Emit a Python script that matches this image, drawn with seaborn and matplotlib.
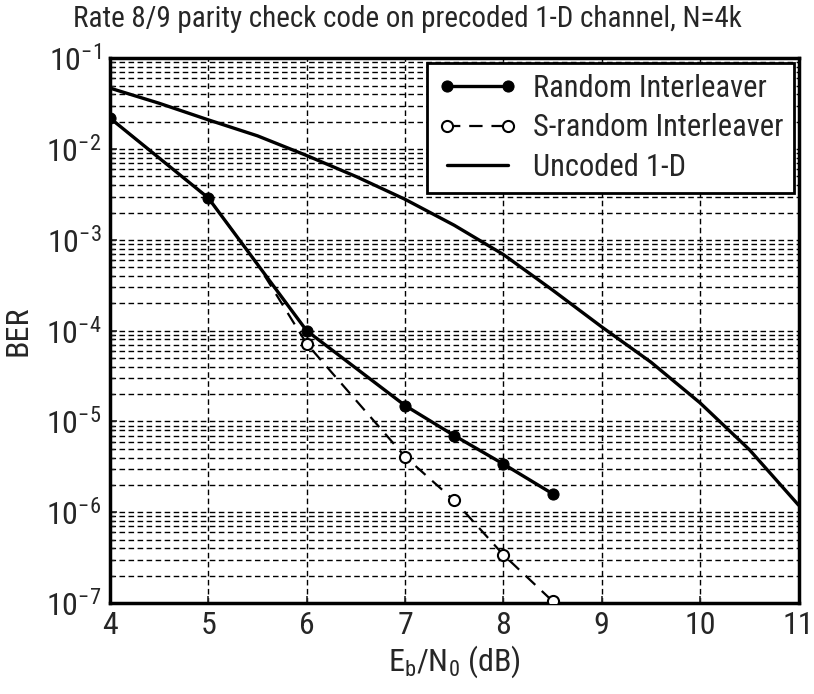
import pandas as pd
import matplotlib
matplotlib.use("Agg")
import matplotlib.pyplot as plt
import seaborn as sns
from matplotlib.ticker import LogLocator, NullFormatter

# --- data ---
ebno_rand = [4, 5, 6, 7, 7.5, 8, 8.5]
ber_rand = [2.2e-2, 2.9e-3, 1.0e-4, 1.5e-5, 7.0e-6, 3.4e-6, 1.6e-6]

ebno_srand = [4, 5, 5.5, 6, 7, 7.5, 8, 8.5]
ber_srand = [2.2e-2, 2.9e-3, 5.4e-4, 7.2e-5, 4.1e-6, 1.35e-6, 3.4e-7, 1.05e-7]

ebno_unc = [4, 4.5, 5, 5.5, 6, 6.5, 7, 7.5, 8, 8.5, 9, 9.5, 10, 10.5, 11]
ber_unc = [4.7e-2, 3.2e-2, 2.1e-2, 1.4e-2, 8.5e-3, 5.0e-3, 2.8e-3, 1.45e-3,
           6.9e-4, 2.8e-4, 1.1e-4, 4.5e-5, 1.6e-5, 4.9e-6, 1.2e-6]

labels = ["Random Interleaver", "S-random Interleaver", "Uncoded 1-D"]

sns.set_style("ticks")
# narrow sans, like the original figure
plt.rcParams["font.family"] = ["Roboto Condensed", "Liberation Sans", "DejaVu Sans"]
plt.rcParams["mathtext.fontset"] = "custom"
plt.rcParams["mathtext.rm"] = "Roboto Condensed"
plt.rcParams["mathtext.default"] = "regular"
plt.rcParams["axes.unicode_minus"] = False

df_r = pd.DataFrame({"x": ebno_rand, "y": ber_rand})
df_s = pd.DataFrame({"x": ebno_srand, "y": ber_srand})
df_u = pd.DataFrame({"x": ebno_unc, "y": ber_unc})

fig = plt.figure(figsize=(8.14, 6.94), dpi=100)
ax = fig.add_axes([0.135, 0.131, 0.846, 0.785])

# S-random under the random curve, its first points hidden by the filled dots
sns.lineplot(data=df_s, x="x", y="y", ax=ax, color="black", lw=1.6,
             linestyle=(0, (6, 4)), marker="o", markersize=8,
             markerfacecolor="white", markeredgecolor="black", markeredgewidth=1.5,
             markevery=[3, 4, 5, 6, 7],
             label=labels[1], estimator=None, sort=False, zorder=3)
sns.lineplot(data=df_r, x="x", y="y", ax=ax, color="black", lw=2.4,
             marker="o", markersize=8, markerfacecolor="black",
             markeredgecolor="black", label=labels[0], estimator=None, sort=False, zorder=4)
sns.lineplot(data=df_u, x="x", y="y", ax=ax, color="black", lw=2.4,
             label=labels[2], estimator=None, sort=False, zorder=3)

ax.set_yscale("log")
ax.set_xlim(4, 11)
ax.set_ylim(1e-7, 1e-1)
ax.set_xticks(range(4, 12))
ax.yaxis.set_major_locator(LogLocator(base=10, numticks=10))
ax.yaxis.set_minor_locator(LogLocator(base=10, subs=range(2, 10), numticks=100))
ax.yaxis.set_minor_formatter(NullFormatter())

ax.grid(True, which="major", axis="both", color="black", lw=1.0, linestyle=(0, (4, 2.5)))
ax.grid(True, which="minor", axis="y", color="black", lw=1.0, linestyle=(0, (4, 2.5)))

ax.tick_params(axis="both", which="major", labelsize=23, direction="in", length=5, width=1.2, pad=6)
ax.tick_params(axis="y", which="minor", direction="in", length=3, width=1)
for s in ax.spines.values():
    s.set_linewidth(2.5)
    s.set_color("black")

fig.suptitle("Rate 8/9 parity check code on precoded 1-D channel, N=4k",
             fontsize=21, x=0.5, y=0.972, va="center")
ax.set_xlabel("E$_\\mathregular{b}$/N$_\\mathregular{0}$ (dB)", fontsize=23, labelpad=2)
ax.set_ylabel("BER", fontsize=23, labelpad=10)

# legend order as in the reference
h, l = ax.get_legend_handles_labels()
order = [l.index(t) for t in labels]
leg = ax.legend([h[i] for i in order], [l[i] for i in order], loc="upper right",
                numpoints=2, fontsize=22, frameon=True, fancybox=False,
                framealpha=1, edgecolor="black", borderaxespad=0.15, handlelength=2.6,
                handletextpad=0.5, labelspacing=0.35, borderpad=0.35)
leg.get_frame().set_linewidth(2)

fig.savefig("out.png", dpi=100)
plt.close(fig)
